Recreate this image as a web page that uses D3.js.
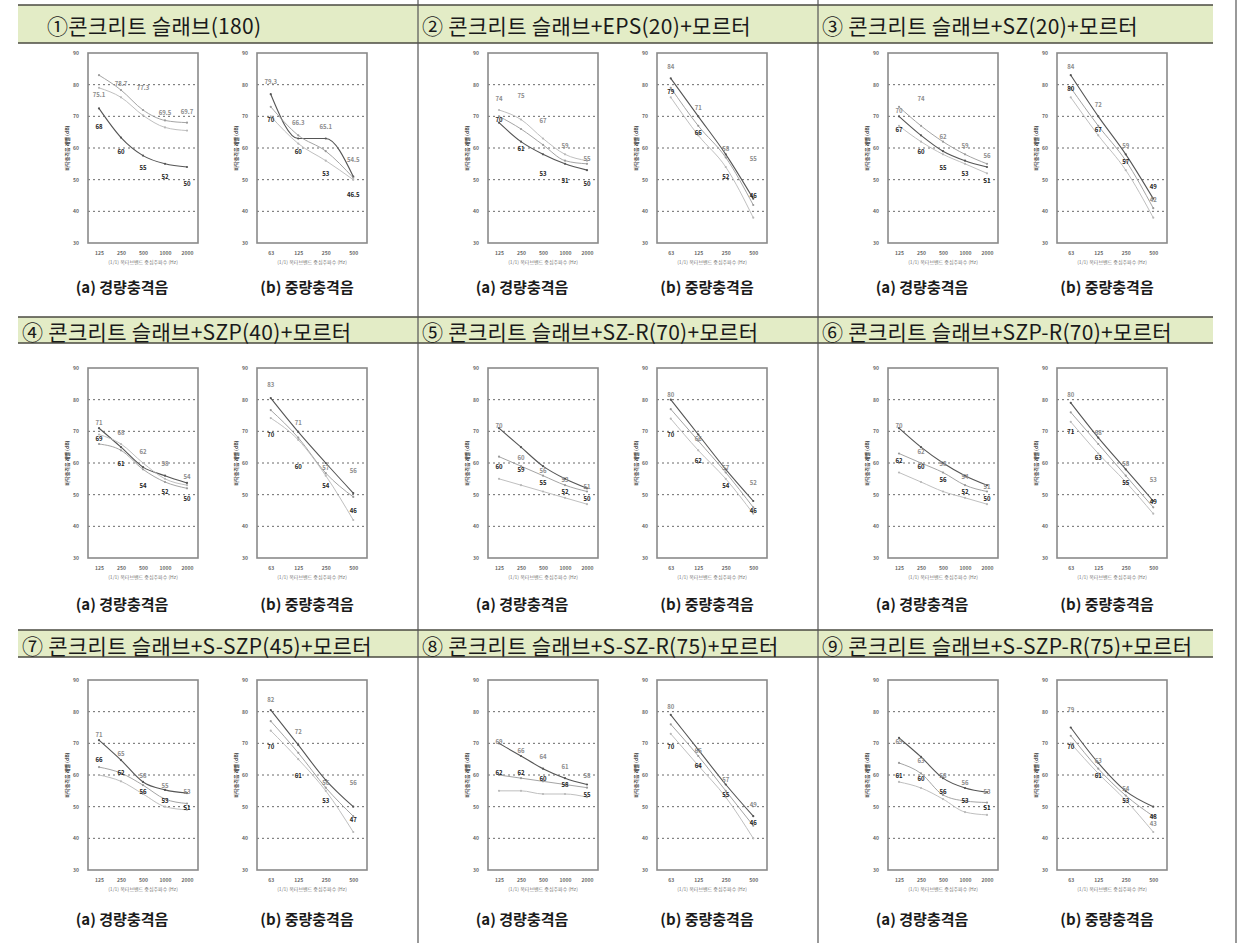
<!DOCTYPE html>
<html>
<head>
<meta charset="utf-8">
<script src="https://cdn.jsdelivr.net/npm/d3@7"></script>
<style>
  body { margin: 0; background: #fff; }
  svg { display: block; }
  text { font-family: "Noto Sans CJK KR", "Noto Sans", sans-serif; }
</style>
</head>
<body>
<svg width="1238" height="943"></svg>
<script>
// panel titles
var titles = [
  "①콘크리트 슬래브(180)",
  "② 콘크리트 슬래브+EPS(20)+모르터",
  "③ 콘크리트 슬래브+SZ(20)+모르터",
  "④ 콘크리트 슬래브+SZP(40)+모르터",
  "⑤ 콘크리트 슬래브+SZ-R(70)+모르터",
  "⑥ 콘크리트 슬래브+SZP-R(70)+모르터",
  "⑦ 콘크리트 슬래브+S-SZP(45)+모르터",
  "⑧ 콘크리트 슬래브+S-SZ-R(75)+모르터",
  "⑨ 콘크리트 슬래브+S-SZP-R(75)+모르터"
];
var captions = ["(a) 경량충격음", "(b) 중량충격음"];

var lightFreq = ["125", "250", "500", "1000", "2000"];
var heavyFreq = ["63", "125", "250", "500"];
var yTicks = [30, 40, 50, 60, 70, 80, 90];

// light-weight impact sound: 3 curves per panel
var lightCurves = [
  [[72.5, 63.3, 57.6, 55, 54], [83, 78.3, 72, 68.7, 68], [79, 76, 70.3, 66.5, 65.5]],
  [[68, 62, 58, 55, 53], [70, 66, 61, 56, 55], [72, 69, 63, 58, 56]],
  [[70, 64, 59, 56, 54], [73, 67, 62, 58, 55], [67, 62, 58, 55, 52]],
  [[71, 65, 58.7, 56, 53.7], [66, 64, 58, 54, 52], [69, 66, 60, 55, 53]],
  [[71, 65, 59, 55, 52], [62, 59, 56, 53, 51], [55, 53, 51, 49, 47]],
  [[71, 65, 60, 56, 53], [63, 60, 57, 53, 51], [57, 54, 51, 49, 47]],
  [[71, 64.7, 57.8, 55.3, 54.3], [62.5, 60.6, 56.8, 52.4, 51], [60, 58, 54, 50, 49]],
  [[70, 66, 62, 59, 57], [60, 59, 58, 57, 56], [55, 55, 54, 54, 53]],
  [[71.7, 65.7, 59, 55.9, 54.6], [63.8, 60.5, 53.7, 51.8, 51.3], [57.8, 55.9, 52.4, 48.3, 47.4]]
];
var lightDark = [
  [68, 60, 55, 52, 50], [70, 61, 53, 51, 50], [67, 60, 55, 53, 51],
  [69, 61, 54, 52, 50], [60, 59, 55, 52, 50], [62, 60, 56, 52, 50],
  [66, 62, 56, 53, 51], [62, 62, 60, 58, 55], [61, 60, 56, 53, 51]
];
var lightGray = [
  [75.1, 78.7, 77.3, 69.5, 69.7], [74, 75, 67, 59, 55], [70, 74, 62, 59, 56],
  [71, 68, 62, 58, 54], [70, 60, 56, 53, 51], [70, 62, 58, 54, 51],
  [71, 65, 58, 55, 53], [69, 66, 64, 61, 58], [69, 63, 58, 56, 53]
];

// heavy-weight impact sound
var heavyCurves = [
  [[77, 63, 63, 51], [73, 64, 59, 50.6], [70, 61.4, 56, 50]],
  [[82, 70, 58, 44], [79, 67, 57, 42], [76, 64, 54, 38]],
  [[83, 70, 58, 44], [79, 67, 56, 41], [76, 64, 53, 38]],
  [[80.5, 69.8, 60, 50.5], [76.7, 68, 56.8, 49.3], [74.2, 67.3, 56, 42]],
  [[80, 69, 58, 48], [77, 67, 57, 46], [74, 64, 55, 44]],
  [[79, 68, 58, 48], [76, 66, 56, 46], [73, 63, 54, 44]],
  [[80.5, 69.5, 58.4, 50], [77, 67, 56, 47], [74, 65, 55, 42]],
  [[79, 68, 57, 47], [76, 66, 55, 44], [73, 63, 53, 40]],
  [[75, 63.8, 54.9, 50], [72.4, 62, 53.5, 47], [70, 60.5, 52, 42]]
];
var heavyDark = [
  [70, 60, 53, 46.5], [79, 66, 52, 46], [80, 67, 57, 49],
  [70, 60, 54, 46], [70, 62, 54, 46], [71, 63, 55, 49],
  [70, 61, 53, 47], [70, 64, 55, 46], [70, 61, 53, 48]
];
var heavyGray = [
  [79.3, 66.3, 65.1, 54.5], [84, 71, 58, 55], [84, 72, 59, 42],
  [83, 71, 57, 56], [80, 66, 57, 52], [80, 68, 58, 53],
  [82, 72, 56, 56], [80, 66, 57, 49], [79, 63, 54, 43]
];

var svg = d3.select("svg");

var colX = [18, 418, 818];
var headTop = [5, 317, 630],
  headBottom = [43, 343, 657],
  frameTop = [53, 368, 680],
  captionY = [286, 603, 918];
var frameW = 110, frameH = 190;
var curveColors = ["#555", "#9a9a9a", "#b8b8b8"];

// header bars
headTop.forEach(function (t, r) {
  svg.append("rect")
    .attr("x", 18).attr("y", t)
    .attr("width", 1195).attr("height", headBottom[r] - t)
    .attr("fill", "#e3ecc6");
  svg.append("line").attr("x1", 18).attr("x2", 1213).attr("y1", t).attr("y2", t)
    .attr("stroke", "#4a4a40").attr("stroke-width", 1.5);
  svg.append("line").attr("x1", 18).attr("x2", 1213).attr("y1", headBottom[r]).attr("y2", headBottom[r])
    .attr("stroke", "#4a4a40").attr("stroke-width", 1.5);
});

// column dividers
[418, 818, 1236].forEach(function (x) {
  svg.append("line").attr("x1", x).attr("x2", x).attr("y1", 0).attr("y2", 943)
    .attr("stroke", "#555").attr("stroke-width", 1.2);
});

function drawChart(g, left, top, freqs, curves, dark, gray) {
  var x = d3.scalePoint().domain(freqs).range([left, left + frameW]).padding(0.5);
  var y = d3.scaleLinear().domain([30, 90]).range([top + frameH, top]);

  // dashed grid
  g.selectAll(".grid")
    .data(yTicks.slice(1, -1))
    .enter().append("line")
    .attr("x1", left).attr("x2", left + frameW)
    .attr("y1", function (d) { return y(d); })
    .attr("y2", function (d) { return y(d); })
    .attr("stroke", "#6a6a6a").attr("stroke-width", 1)
    .attr("stroke-dasharray", "2,3");

  g.append("rect")
    .attr("x", left).attr("y", top)
    .attr("width", frameW).attr("height", frameH)
    .attr("fill", "none").attr("stroke", "#8a8a8a").attr("stroke-width", 1.6);

  var ya = g.append("g")
    .attr("transform", "translate(" + left + ",0)")
    .call(d3.axisLeft(y).tickValues(yTicks).tickSize(0).tickPadding(9));
  ya.select(".domain").remove();
  ya.selectAll("text").attr("font-size", 5).attr("font-weight", "bold").attr("fill", "#666");

  var xa = g.append("g")
    .attr("transform", "translate(0," + (top + frameH) + ")")
    .call(d3.axisBottom(x).tickSize(0).tickPadding(8));
  xa.select(".domain").remove();
  xa.selectAll("text").attr("font-size", 5).attr("font-weight", "bold").attr("fill", "#666");

  g.append("text")
    .attr("x", left + frameW / 2).attr("y", top + frameH + 21)
    .attr("text-anchor", "middle").attr("font-size", 5).attr("fill", "#777")
    .text("(1/1) 옥타브밴드 중심주파수 (Hz)");

  g.append("text")
    .attr("transform", "translate(" + (left - 19) + "," + (top + frameH / 2) + ") rotate(-90)")
    .attr("text-anchor", "middle").attr("font-size", 5).attr("font-weight", "bold").attr("fill", "#444")
    .text("바닥충격음 레벨 (dB)");

  var line = d3.line()
    .x(function (d, i) { return x(freqs[i]); })
    .y(function (d) { return y(d); })
    .curve(d3.curveMonotoneX);

  curves.forEach(function (c, k) {
    g.append("path").datum(c)
      .attr("d", line)
      .attr("fill", "none")
      .attr("stroke", curveColors[k])
      .attr("stroke-width", k === 0 ? 1.1 : 0.9);
    g.selectAll(".pt" + k).data(c).enter().append("circle")
      .attr("cx", function (d, i) { return x(freqs[i]); })
      .attr("cy", function (d) { return y(d); })
      .attr("r", 1.1)
      .attr("fill", curveColors[k]);
  });

  g.selectAll(".grayLbl").data(gray).enter().append("text")
    .attr("x", function (d, i) { return x(freqs[i]); })
    .attr("y", function (d) { return y(d) - 3; })
    .attr("text-anchor", "middle").attr("font-size", 6).attr("font-weight", "bold")
    .attr("fill", "#8c8c8c")
    .text(function (d) { return d; });

  g.selectAll(".darkLbl").data(dark).enter().append("text")
    .attr("x", function (d, i) { return x(freqs[i]); })
    .attr("y", function (d) { return y(d) + 6; })
    .attr("text-anchor", "middle").attr("font-size", 6).attr("font-weight", "bold")
    .attr("fill", "#222")
    .text(function (d) { return d; });
}

titles.forEach(function (t, p) {
  var r = Math.floor(p / 3), c = p % 3;
  var cx = colX[c];

  svg.append("text")
    .attr("x", cx + (p === 0 ? 29 : 4))
    .attr("y", (headTop[r] + headBottom[r]) / 2 + 1)
    .attr("dominant-baseline", "central")
    .attr("font-size", 21).attr("letter-spacing", 0.3).attr("fill", "#1a1a1a")
    .text(t);

  var g = svg.append("g");
  drawChart(g, cx + 70, frameTop[r], lightFreq, lightCurves[p], lightDark[p], lightGray[p]);
  drawChart(g, cx + 239, frameTop[r], heavyFreq, heavyCurves[p], heavyDark[p], heavyGray[p]);

  [104, 289].forEach(function (off, k) {
    svg.append("text")
      .attr("x", cx + off).attr("y", captionY[r])
      .attr("text-anchor", "middle").attr("dominant-baseline", "central")
      .attr("font-size", 15).attr("font-weight", "bold").attr("fill", "#1a1a1a")
      .text(captions[k]);
  });
});
</script>
</body>
</html>
